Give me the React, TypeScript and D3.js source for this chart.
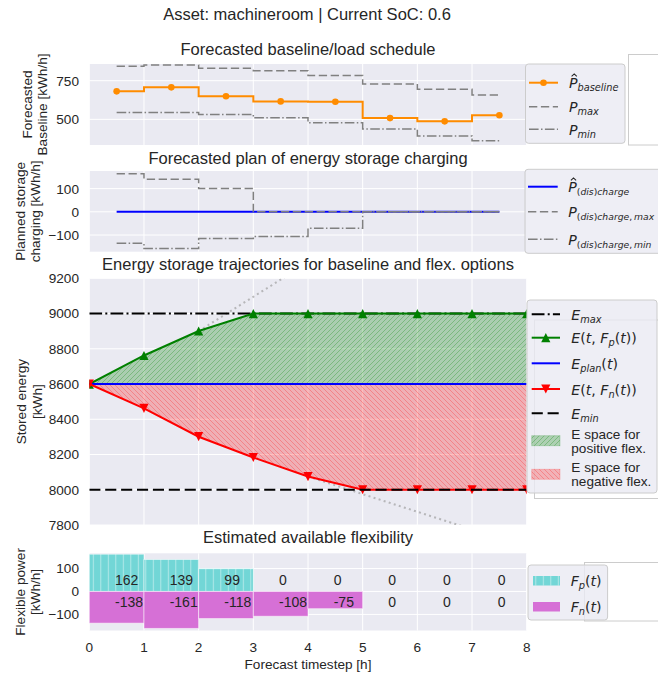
import React from 'react';
import * as d3 from 'd3';

// forecast hours (steps / bars) and energy checkpoints
const hours = [0, 1, 2, 3, 4, 5, 6, 7];
const eSteps = [0, 1, 2, 3, 4, 5, 6, 7, 8];
const xTicks = [0, 1, 2, 3, 4, 5, 6, 7, 8];

// panel 1: baseline / load schedule [kWh/h]
const baseline = [681, 707, 649, 616, 614, 508, 487, 526];
const pMax = [843, 852, 830, 815, 783, 729, 694, 657];
const pMin = [545, 545, 532, 510, 478, 437, 392, 361];
const baseTicks = [500, 750];

// panel 2: storage charging plan [kWh/h]
const chargePlan = [0, 0, 0, 0, 0, 0, 0, 0];
const chargeMax = [164, 140, 100, 0, 0, 0, 0, 0];
const chargeMin = [-136, -158, -115, -106, -71, 0, 0, 0];
const chargeTicks = [-100, 0, 100];

// panel 3: stored energy [kWh]
const eMax = 9000;
const eMin = 8000;
const ePlan = [8600, 8600, 8600, 8600, 8600, 8600, 8600, 8600, 8600];
const eFp = [8600, 8762, 8901, 9000, 9000, 9000, 9000, 9000, 9000];
const eFn = [8600, 8462, 8301, 8183, 8075, 8000, 8000, 8000, 8000];
const dottedUp: [number, number][] = [[2, 8900], [4, 9290]];
const dottedDown: [number, number][] = [[4, 8075], [7, 7775]];
const energyTicks = [7800, 8000, 8200, 8400, 8600, 8800, 9000, 9200];

// panel 4: available flexibility [kWh/h]
const flexPos = [162, 139, 99, 0, 0, 0, 0, 0];
const flexNeg = [-138, -161, -118, -108, -75, 0, 0, 0];
const flexTicks = [-100, 0, 100];

const W = 658;
const H = 675;
const X0 = 89.3;
const X1 = 526.7;
const INK = '#262626';
const BG = '#EAEAF2';
const SANS = '"Liberation Sans", Arial, sans-serif';
const MATH = '"DejaVu Sans", sans-serif';
const FS = 13.6;

const P1 = { top: 64, bottom: 145 };
const P2 = { top: 171, bottom: 251.7 };
const P3 = { top: 278.3, bottom: 525 };
const P4 = { top: 553.3, bottom: 630.5 };

const x = d3.scaleLinear().domain([0, 8]).range([X0, X1]);
const yBase = d3.scaleLinear().domain([334, 858]).range([P1.bottom, P1.top]);
const yCharge = d3.scaleLinear().domain([-172, 176]).range([P2.bottom, P2.top]);
const yEnergy = d3.scaleLinear().domain([7800, 9200]).range([P3.bottom, P3.top]);
const yFlex = d3.scaleLinear().domain([-170, 166]).range([P4.bottom, P4.top]);

const fmt = d3.format('d');

const DASH = '8.3 3.6';
const DASHDOT = '9.6 2.4 1.5 2.4';
const DASH_B = '11.1 4.8';
const DASHDOT_B = '12.8 3.2 2 3.2';

// step where='mid' : points sit at hour centres
const stepLine = (y: d3.ScaleLinear<number, number>) =>
  d3.line<number>().x((_, i) => x(hours[i] + 0.5)).y(d => y(d)).curve(d3.curveStep);

const eLine = d3.line<number>().x((_, i) => x(eSteps[i])).y(d => yEnergy(d));
const segLine = d3.line<[number, number]>().x(d => x(d[0])).y(d => yEnergy(d[1]));
const areaBetween = (upper: number[], lower: number[]) =>
  d3.area<number>().x((_, i) => x(eSteps[i])).y0((_, i) => yEnergy(lower[i])).y1(d => yEnergy(d))(upper) || '';

function Frame({ y, ticks, top, bottom }: { y: d3.ScaleLinear<number, number>; ticks: number[]; top: number; bottom: number }) {
  return (
    <g>
      <rect x={X0} y={top} width={X1 - X0} height={bottom - top} fill={BG} />
      {xTicks.map(t => (
        <line key={'gx' + t} x1={x(t)} x2={x(t)} y1={top} y2={bottom} stroke="#fff" strokeWidth={1} />
      ))}
      {ticks.map(v => (
        <line key={'gy' + v} x1={X0} x2={X1} y1={y(v)} y2={y(v)} stroke="#fff" strokeWidth={1} />
      ))}
      {ticks.map(v => (
        <text key={'ty' + v} x={79} y={y(v) + 4.9} textAnchor="end" fontSize={FS} fill={INK}>{fmt(v)}</text>
      ))}
    </g>
  );
}

function YLabel({ lines, xs, cy }: { lines: string[]; xs: number[]; cy: number }) {
  return (
    <g>
      {lines.map((l, i) => (
        <text key={i} transform={`translate(${xs[i] + 4.9},${cy}) rotate(-90)`} textAnchor="middle" fontSize={FS} fill={INK}>{l}</text>
      ))}
    </g>
  );
}

type Seg = { t: string; i?: boolean; sub?: boolean };
function MathText({ x0, y0, segs, hat, subSize = 0.72 }: { x0: number; y0: number; segs: Seg[]; hat?: boolean; subSize?: number }) {
  const drop = 3;
  let inSub = false;
  const spans = segs.map((s, k) => {
    let dy = 0;
    if (s.sub && !inSub) dy = drop;
    else if (!s.sub && inSub) dy = -drop;
    inSub = !!s.sub;
    return (
      <tspan key={k} dy={dy || undefined} fontStyle={s.i ? 'italic' : 'normal'} fontSize={s.sub ? FS * subSize : FS * 1.04}>{s.t}</tspan>
    );
  });
  return (
    <g>
      {hat && (
        <path d={`M${x0 + 2.6},${y0 - 11.8} L${x0 + 5.2},${y0 - 14.3} L${x0 + 7.8},${y0 - 11.8}`} fill="none" stroke={INK} strokeWidth={1.1} />
      )}
      <text x={x0} y={y0} fontFamily={MATH} fill={INK} style={{ whiteSpace: 'pre' }}>{spans}</text>
    </g>
  );
}

function Triangle({ cx, cy, up, color }: { cx: number; cy: number; up: boolean; color: string }) {
  const h = 4.6;
  const d = up
    ? `M${cx},${cy - h} L${cx - h},${cy + h} L${cx + h},${cy + h} Z`
    : `M${cx},${cy + h} L${cx - h},${cy - h} L${cx + h},${cy - h} Z`;
  return <path d={d} fill={color} />;
}

function LegendBox({ x0, y0, w, h }: { x0: number; y0: number; w: number; h: number }) {
  return <rect x={x0} y={y0} width={w} height={h} rx={3} fill={BG} fillOpacity={0.8} stroke="#cccccc" strokeWidth={1} />;
}

const chargeSub: Seg[] = [
  { t: '(', sub: true }, { t: 'dis', i: true, sub: true }, { t: ')', sub: true }, { t: 'charge', i: true, sub: true },
];

export default function App() {
  const baseStep = stepLine(yBase);
  const chargeStep = stepLine(yCharge);

  return (
    <div style={{ position: 'absolute', left: 0, top: 0 }}>
      <svg width={W} height={H} style={{ display: 'block', background: '#fff' }} fontFamily={SANS}>
        <defs>
          <clipPath id="clip1"><rect x={X0} y={P1.top} width={X1 - X0} height={P1.bottom - P1.top} /></clipPath>
          <clipPath id="clip2"><rect x={X0} y={P2.top} width={X1 - X0} height={P2.bottom - P2.top} /></clipPath>
          <clipPath id="clip3"><rect x={X0} y={P3.top} width={X1 - X0} height={P3.bottom - P3.top} /></clipPath>
          <pattern id="hatchPos" width={5} height={5} patternUnits="userSpaceOnUse">
            <path d="M0,5 L5,0 M-1.25,1.25 L1.25,-1.25 M3.75,6.25 L6.25,3.75" stroke="green" strokeOpacity={0.28} strokeWidth={1} />
          </pattern>
          <pattern id="hatchNeg" width={5} height={5} patternUnits="userSpaceOnUse">
            <path d="M0,0 L5,5 M-1.25,3.75 L1.25,6.25 M3.75,-1.25 L6.25,1.25" stroke="red" strokeOpacity={0.25} strokeWidth={1} />
          </pattern>
          <pattern id="hatchBar" width={7.5} height={10} x={X0 + 3.5} patternUnits="userSpaceOnUse">
            <line x1={0.5} x2={0.5} y1={0} y2={10} stroke="#fff" strokeOpacity={0.45} strokeWidth={1} />
          </pattern>
        </defs>

        <text x={307} y={20} textAnchor="middle" fontSize={16.5} fill={INK}>Asset: machineroom | Current SoC: 0.6</text>

        {/* panel 1: baseline */}
        <text x={308} y={54.5} textAnchor="middle" fontSize={16.5} fill={INK}>Forecasted baseline/load schedule</text>
        <Frame y={yBase} ticks={baseTicks} top={P1.top} bottom={P1.bottom} />
        <g clipPath="url(#clip1)">
          <path d={baseStep(baseline) || ''} fill="none" stroke="#FF8C00" strokeWidth={2} />
          {baseline.map((v, i) => (
            <circle key={i} cx={x(hours[i] + 0.5)} cy={yBase(v)} r={3.3} fill="#FF8C00" />
          ))}
          <path d={baseStep(pMax) || ''} fill="none" stroke="#808080" strokeWidth={1.5} strokeDasharray={DASH} />
          <path d={baseStep(pMin) || ''} fill="none" stroke="#808080" strokeWidth={1.5} strokeDasharray={DASHDOT} />
        </g>
        <YLabel lines={['Forecasted', 'Baseline [kWh/h]']} xs={[27, 42.5]} cy={(P1.top + P1.bottom) / 2} />

        {/* panel 2: charging plan */}
        <text x={308} y={164} textAnchor="middle" fontSize={16.5} fill={INK}>Forecasted plan of energy storage charging</text>
        <Frame y={yCharge} ticks={chargeTicks} top={P2.top} bottom={P2.bottom} />
        <g clipPath="url(#clip2)">
          <path d={chargeStep(chargePlan) || ''} fill="none" stroke="#0000FF" strokeWidth={2} />
          <path d={chargeStep(chargeMax) || ''} fill="none" stroke="#808080" strokeWidth={1.5} strokeDasharray={DASH} />
          <path d={chargeStep(chargeMin) || ''} fill="none" stroke="#808080" strokeWidth={1.5} strokeDasharray={DASHDOT} />
        </g>
        <YLabel lines={['Planned storage', 'charging [kWh/h]']} xs={[20.5, 35]} cy={(P2.top + P2.bottom) / 2} />

        {/* panel 3: energy trajectories */}
        <text x={308} y={270} textAnchor="middle" fontSize={16.5} fill={INK}>Energy storage trajectories for baseline and flex. options</text>
        <Frame y={yEnergy} ticks={energyTicks} top={P3.top} bottom={P3.bottom} />
        <g clipPath="url(#clip3)">
          <path d={areaBetween(eFp, ePlan)} fill="green" fillOpacity={0.27} />
          <path d={areaBetween(eFp, ePlan)} fill="url(#hatchPos)" />
          <path d={areaBetween(ePlan, eFn)} fill="red" fillOpacity={0.25} />
          <path d={areaBetween(ePlan, eFn)} fill="url(#hatchNeg)" />
          <path d={segLine(dottedUp) || ''} fill="none" stroke="#999" strokeOpacity={0.65} strokeWidth={2} strokeDasharray="2 3.3" />
          <path d={segLine(dottedDown) || ''} fill="none" stroke="#999" strokeOpacity={0.65} strokeWidth={2} strokeDasharray="2 3.3" />
          <line x1={x(0)} x2={x(8)} y1={yEnergy(eMax)} y2={yEnergy(eMax)} stroke="#000" strokeWidth={2} strokeDasharray={DASHDOT_B} />
          <path d={eLine(eFp) || ''} fill="none" stroke="#008000" strokeWidth={2} />
          {eFp.map((v, i) => (
            <Triangle key={i} cx={x(eSteps[i])} cy={yEnergy(v)} up color="#008000" />
          ))}
          <path d={eLine(ePlan) || ''} fill="none" stroke="#0000FF" strokeWidth={2} />
          <path d={eLine(eFn) || ''} fill="none" stroke="#FF0000" strokeWidth={2} />
          {eFn.map((v, i) => (
            <Triangle key={i} cx={x(eSteps[i])} cy={yEnergy(v)} up={false} color="#FF0000" />
          ))}
          <line x1={x(0)} x2={x(8)} y1={yEnergy(eMin)} y2={yEnergy(eMin)} stroke="#000" strokeWidth={2} strokeDasharray={DASH_B} />
        </g>
        <YLabel lines={['Stored energy', '[kWh]']} xs={[21, 37]} cy={(P3.top + P3.bottom) / 2} />

        {/* panel 4: flexibility bars */}
        <text x={308} y={543} textAnchor="middle" fontSize={16.5} fill={INK}>Estimated available flexibility</text>
        <Frame y={yFlex} ticks={flexTicks} top={P4.top} bottom={P4.bottom} />
        {flexPos.map((v, i) => (
          <g key={'fp' + i}>
            <rect x={x(hours[i])} y={yFlex(Math.max(v, 0))} width={x(1) - x(0)} height={Math.abs(yFlex(v) - yFlex(0))} fill="#72D6D6" />
            <rect x={x(hours[i])} y={yFlex(Math.max(v, 0))} width={x(1) - x(0)} height={Math.abs(yFlex(v) - yFlex(0))} fill="url(#hatchBar)" stroke="#fff" strokeOpacity={0.5} strokeWidth={v ? 1 : 0} />
          </g>
        ))}
        {flexNeg.map((v, i) => (
          <rect key={'fn' + i} x={x(hours[i])} y={yFlex(0)} width={x(1) - x(0)} height={Math.abs(yFlex(v) - yFlex(0))} fill="#D670D6" stroke="#fff" strokeOpacity={0.5} strokeWidth={v ? 1 : 0} />
        ))}
        {flexPos.map((v, i) => (
          <text key={'lp' + i} x={x(hours[i] + 0.47)} y={yFlex(50) + 5} fontSize={14} fill={INK}>{`${v}`}</text>
        ))}
        {flexNeg.map((v, i) => (
          <text key={'ln' + i} x={x(hours[i] + 0.47)} y={yFlex(-45) + 5} fontSize={14} fill={INK}>{`${v}`}</text>
        ))}
        {xTicks.map(t => (
          <text key={'tx' + t} x={x(t)} y={651.5} textAnchor="middle" fontSize={FS} fill={INK}>{t}</text>
        ))}
        <text x={308} y={669} textAnchor="middle" fontSize={FS} fill={INK}>Forecast timestep [h]</text>
        <YLabel lines={['Flexible power', '[kWh/h]']} xs={[20, 35.5]} cy={(P4.top + P4.bottom) / 2} />

        {/* stray white frames behind the legends */}
        <rect x={628.5} y={54.5} width={100} height={90.5} fill="#fff" stroke="#cccccc" strokeWidth={1} />
        <rect x={534.5} y={320} width={150} height={178.5} fill="#fff" stroke="#cccccc" strokeWidth={1} />
        <rect x={584.5} y={562.5} width={100} height={58.5} fill="#fff" stroke="#cccccc" strokeWidth={1} />

        {/* legend 1 */}
        <LegendBox x0={525.5} y0={64} w={99.5} h={79.3} />
        <line x1={529} x2={558} y1={82.7} y2={82.7} stroke="#FF8C00" strokeWidth={2} />
        <circle cx={543.5} cy={82.7} r={3.3} fill="#FF8C00" />
        <line x1={529} x2={558} y1={106.7} y2={106.7} stroke="#808080" strokeWidth={1.5} strokeDasharray={DASH} />
        <line x1={529} x2={558} y1={129.3} y2={129.3} stroke="#808080" strokeWidth={1.5} strokeDasharray={DASHDOT} />
        <MathText x0={569} y0={88.2} hat segs={[{ t: 'P', i: true }, { t: 'baseline', i: true, sub: true }]} />
        <MathText x0={569} y0={112.2} segs={[{ t: 'P', i: true }, { t: 'max', i: true, sub: true }]} />
        <MathText x0={569} y0={134.8} segs={[{ t: 'P', i: true }, { t: 'min', i: true, sub: true }]} />

        {/* legend 2 */}
        <LegendBox x0={525} y0={169.3} w={150} h={84} />
        <line x1={528} x2={557.7} y1={186.7} y2={186.7} stroke="#0000FF" strokeWidth={2} />
        <line x1={528} x2={557.7} y1={211.7} y2={211.7} stroke="#808080" strokeWidth={1.5} strokeDasharray={DASH} />
        <line x1={528} x2={557.7} y1={239.3} y2={239.3} stroke="#808080" strokeWidth={1.5} strokeDasharray={DASHDOT} />
        <MathText x0={568.3} y0={192.2} hat subSize={0.68} segs={[{ t: 'P', i: true }, ...chargeSub]} />
        <MathText x0={568.3} y0={217.2} subSize={0.68} segs={[{ t: 'P', i: true }, ...chargeSub, { t: ',\u2009', sub: true }, { t: 'max', i: true, sub: true }]} />
        <MathText x0={568.3} y0={244.8} subSize={0.68} segs={[{ t: 'P', i: true }, ...chargeSub, { t: ',\u2009', sub: true }, { t: 'min', i: true, sub: true }]} />

        {/* legend 3 */}
        <LegendBox x0={527} y0={300} w={130} h={193} />
        <line x1={531.7} x2={560} y1={314.3} y2={314.3} stroke="#000" strokeWidth={2} strokeDasharray={DASHDOT_B} />
        <line x1={531.7} x2={560} y1={337.7} y2={337.7} stroke="#008000" strokeWidth={2} />
        <Triangle cx={545.8} cy={337.7} up color="#008000" />
        <line x1={531.7} x2={560} y1={363.3} y2={363.3} stroke="#0000FF" strokeWidth={2} />
        <line x1={531.7} x2={560} y1={389} y2={389} stroke="#FF0000" strokeWidth={2} />
        <Triangle cx={545.8} cy={389} up={false} color="#FF0000" />
        <line x1={531.7} x2={560} y1={413.3} y2={413.3} stroke="#000" strokeWidth={2} strokeDasharray={DASH_B} />
        <rect x={531.7} y={435.7} width={28.3} height={10} fill="green" fillOpacity={0.27} stroke="green" strokeOpacity={0.2} />
        <rect x={531.7} y={435.7} width={28.3} height={10} fill="url(#hatchPos)" />
        <rect x={531.7} y={469.3} width={28.3} height={10} fill="red" fillOpacity={0.25} stroke="red" strokeOpacity={0.18} />
        <rect x={531.7} y={469.3} width={28.3} height={10} fill="url(#hatchNeg)" />
        <MathText x0={571.3} y0={319.8} segs={[{ t: 'E', i: true }, { t: 'max', i: true, sub: true }]} />
        <MathText x0={571.3} y0={343.2} segs={[{ t: 'E', i: true }, { t: '(' }, { t: 't', i: true }, { t: ', ' }, { t: 'F', i: true }, { t: 'p', i: true, sub: true }, { t: '(' }, { t: 't', i: true }, { t: '))' }]} />
        <MathText x0={571.3} y0={368.8} segs={[{ t: 'E', i: true }, { t: 'plan', i: true, sub: true }, { t: '(' }, { t: 't', i: true }, { t: ')' }]} />
        <MathText x0={571.3} y0={394.5} segs={[{ t: 'E', i: true }, { t: '(' }, { t: 't', i: true }, { t: ', ' }, { t: 'F', i: true }, { t: 'n', i: true, sub: true }, { t: '(' }, { t: 't', i: true }, { t: '))' }]} />
        <MathText x0={571.3} y0={418.8} segs={[{ t: 'E', i: true }, { t: 'min', i: true, sub: true }]} />
        <text x={571.3} y={438.9} fontSize={FS} fill={INK}>E space for</text>
        <text x={571.3} y={452.9} fontSize={FS} fill={INK}>positive flex.</text>
        <text x={571.3} y={471.9} fontSize={FS} fill={INK}>E space for</text>
        <text x={571.3} y={485.9} fontSize={FS} fill={INK}>negative flex.</text>

        {/* legend 4 */}
        <LegendBox x0={528} y0={565} w={79.6} h={55} />
        <rect x={533} y={576} width={27} height={9.5} fill="#72D6D6" />
        <rect x={533} y={576} width={27} height={9.5} fill="url(#hatchBar)" />
        <rect x={533} y={602} width={27} height={9.5} fill="#D670D6" />
        <MathText x0={570.7} y0={586.2} segs={[{ t: 'F', i: true }, { t: 'p', i: true, sub: true }, { t: '(' }, { t: 't', i: true }, { t: ')' }]} />
        <MathText x0={570.7} y0={612.2} segs={[{ t: 'F', i: true }, { t: 'n', i: true, sub: true }, { t: '(' }, { t: 't', i: true }, { t: ')' }]} />
      </svg>
    </div>
  );
}
